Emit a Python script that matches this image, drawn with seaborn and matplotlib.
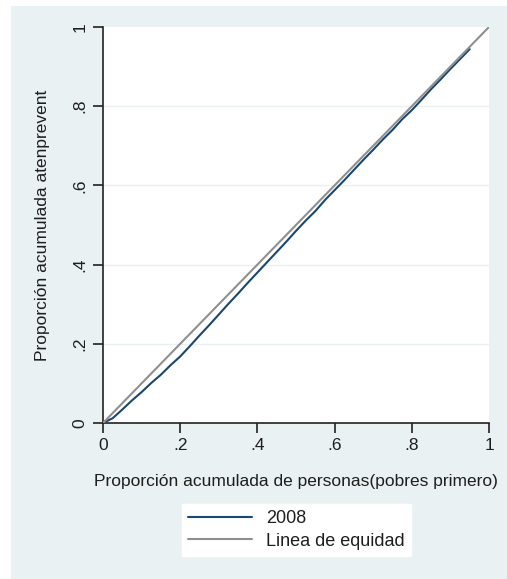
import matplotlib
matplotlib.use("Agg")
import matplotlib.pyplot as plt
import pandas as pd
import seaborn as sns
from matplotlib.patches import Rectangle

# cumulative share of people (poorest first) and of atenprevent, 2008
p_2008 = [0, 0.025, 0.05, 0.075, 0.1, 0.125, 0.15, 0.175, 0.2, 0.225, 0.25,
          0.275, 0.3, 0.325, 0.35, 0.375, 0.4, 0.425, 0.45, 0.475, 0.5,
          0.525, 0.55, 0.575, 0.6, 0.625, 0.65, 0.675, 0.7, 0.725, 0.75,
          0.775, 0.8, 0.825, 0.85, 0.875, 0.9, 0.925, 0.95]
l_2008 = [0, 0.012, 0.034, 0.057, 0.078, 0.101, 0.122, 0.146, 0.168, 0.194,
          0.221, 0.247, 0.274, 0.301, 0.327, 0.354, 0.380, 0.406, 0.432,
          0.458, 0.485, 0.511, 0.535, 0.563, 0.588, 0.613, 0.639, 0.665,
          0.690, 0.716, 0.740, 0.767, 0.790, 0.816, 0.843, 0.868, 0.894,
          0.919, 0.944]
p_eq = [0, 1]
l_eq = [0, 1]

ticks = [0, 0.2, 0.4, 0.6, 0.8, 1]
tick_labels = ["0", ".2", ".4", ".6", ".8", "1"]

BG = "#eaf1f3"
BLUE = "#1a476f"
GRAY = "#8f8f8f"
TXT = "#1e1e1e"

sns.set_style("white")
plt.rcParams["font.family"] = ["Liberation Sans", "DejaVu Sans"]

fig = plt.figure(figsize=(5.07, 5.79), dpi=100)
fig.patch.set_facecolor("white")
fig.patches.append(Rectangle((11 / 507, 0), 1, 573 / 579, transform=fig.transFigure,
                             facecolor=BG, edgecolor="none", zorder=-10))

ax = fig.add_axes([103 / 507, 156 / 579, 386 / 507, 396 / 579])
ax.set_facecolor("white")

df_2008 = pd.DataFrame({"x": p_2008, "y": l_2008})
df_eq = pd.DataFrame({"x": p_eq, "y": l_eq})
sns.lineplot(data=df_2008, x="x", y="y", ax=ax, color=BLUE, lw=1.5,
             label="2008", sort=False, zorder=3)
sns.lineplot(data=df_eq, x="x", y="y", ax=ax, color=GRAY, lw=1.5,
             label="Linea de equidad", sort=False, zorder=4)

ax.set_xlim(0, 1)
ax.set_ylim(0, 1)
ax.set_xticks(ticks)
ax.set_xticklabels(tick_labels)
ax.set_yticks(ticks)
ax.set_yticklabels(tick_labels, rotation=90, va="center")
for v in ticks[1:-1]:
    ax.axhline(v, color=BG, lw=1.0, zorder=1)

for s in ["top", "right"]:
    ax.spines[s].set_visible(False)
for s in ["left", "bottom"]:
    ax.spines[s].set_color("#222222")
    ax.spines[s].set_linewidth(1.2)
ax.tick_params(axis="both", direction="out", length=7, width=1.2, color="#222222",
               labelsize=12.5, labelcolor=TXT, pad=4, left=True, bottom=True)

ax.set_xlabel("Proporción acumulada de personas(pobres primero)", fontsize=12.5,
              color=TXT, labelpad=15)
ax.set_ylabel("Proporción acumulada atenprevent", fontsize=12.5, color=TXT, labelpad=16)

ax.get_legend().remove()
h, lab = ax.get_legend_handles_labels()
leg = fig.legend(h, lab, loc="center", bbox_to_anchor=((185 + 408) / 2 / 507, 1 - 530 / 579),
                 frameon=True, fancybox=False, fontsize=13, handlelength=3.5,
                 handletextpad=0.8, borderpad=0.35, labelspacing=0.3,
                 labelcolor=TXT)
leg.get_frame().set_facecolor("white")
leg.get_frame().set_edgecolor("white")
leg.get_frame().set_alpha(1)

fig.savefig("out.png", dpi=100, facecolor=fig.get_facecolor())
